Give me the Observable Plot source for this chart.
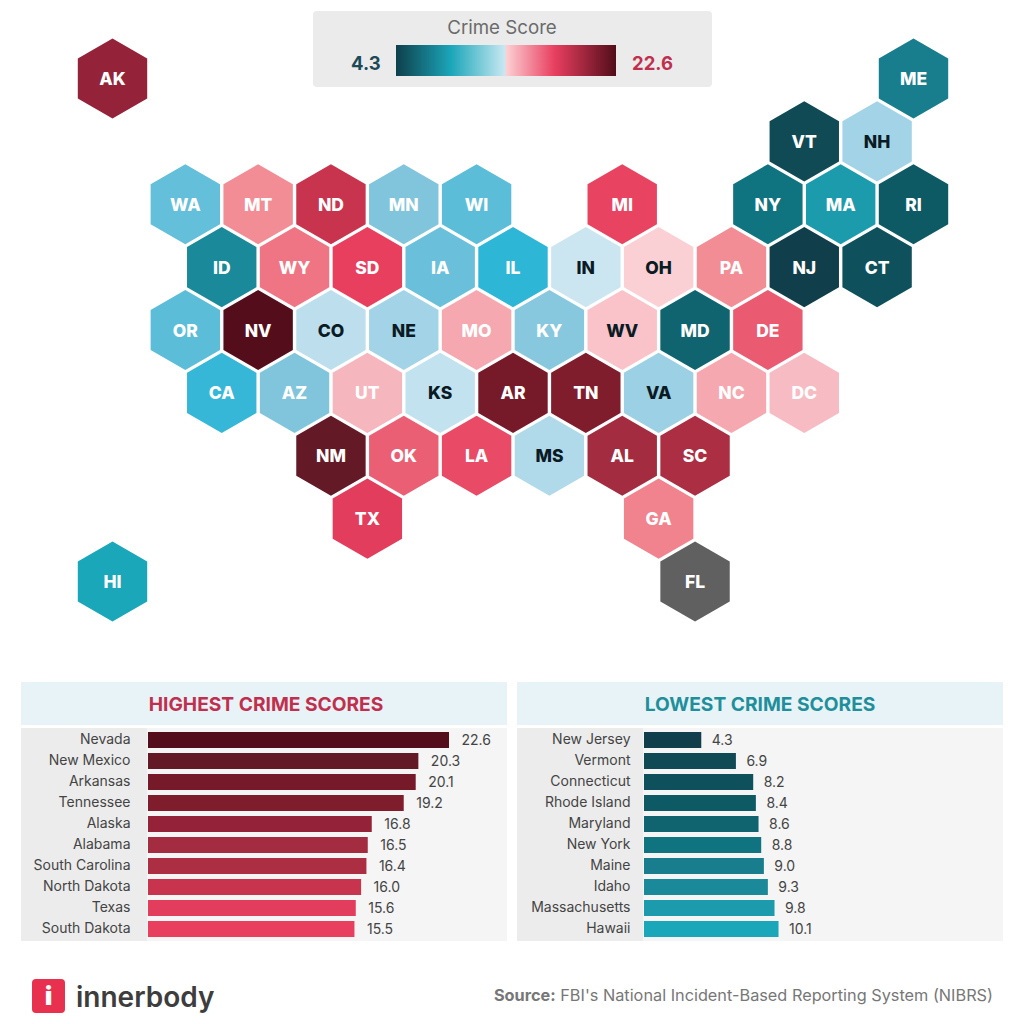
<!DOCTYPE html>
<html>
<head>
<meta charset="utf-8">
<script src="https://cdn.jsdelivr.net/npm/d3@7"></script>
<script src="https://cdn.jsdelivr.net/npm/@observablehq/plot@0.6"></script>
<style>
html,body{margin:0;padding:0;background:#fff;overflow:hidden}
#page{position:relative;width:1018px;height:1024px;overflow:hidden;font-family:Inter,sans-serif}
#page>div{position:absolute}
#page svg{display:block}
#map{left:0;top:0}
#legend{left:313px;top:11px;width:399px;height:76px;background:#ebebeb;border-radius:4px}
#legend div{position:absolute}
#legendTitle{left:0;width:378px;top:5px;text-align:center;font-size:18.7px;color:#6a6a6a}
#legendMin{left:38px;top:41px;font-size:18.5px;font-weight:700;color:#1d4a57}
#legendMax{left:319px;top:41px;font-size:18.5px;font-weight:700;color:#c0304e}
#legendRamp{left:83px;top:34px;width:220px;height:31px}
.head{top:682px;height:43px;width:486px;background:#e7f3f7;text-align:center;font-size:19.2px;font-weight:700;line-height:45px}
.body{top:728px;height:213px;width:486px;background:linear-gradient(90deg,#ececec 126px,#f5f5f5 126px)}
#logo{left:32px;top:979px;width:33px;height:34px;background:#e8304f;border-radius:4px;color:#fff;font-weight:900;font-size:26px;line-height:34px;text-align:center}
#brand{left:76px;top:976px;font-size:28px;font-weight:600;color:#3d3d3d;line-height:42px}
#source{right:25px;top:984px;font-size:16.3px;color:#777;line-height:22px}
</style>
</head>
<body>
<div id="page">
  <div id="map"></div>
  <div id="legend">
    <div id="legendTitle">Crime Score</div>
    <div id="legendMin"></div>
    <div id="legendRamp"></div>
    <div id="legendMax"></div>
  </div>
  <div class="head" id="highHead" style="left:21px;color:#c0304e;text-indent:4px"></div>
  <div class="body" id="highBars" style="left:21px"></div>
  <div class="head" id="lowHead" style="left:517px;color:#1f8f9c"></div>
  <div class="body" id="lowBars" style="left:517px"></div>
  <div id="logo">i</div>
  <div id="brand">innerbody</div>
  <div id="source"><b>Source:</b> FBI's National Incident-Based Reporting System (NIBRS)</div>
</div>
<script>
// Hex grid map data
const stateCodes = ["AK","ME","VT","NH","WA","MT","ND","MN","WI","MI","NY","MA","RI","ID","WY","SD","IA","IL","IN","OH","PA","NJ","CT","OR","NV","CO","NE","MO","KY","WV","MD","DE","CA","AZ","UT","KS","AR","TN","VA","NC","DC","NM","OK","LA","MS","AL","SC","TX","GA","HI"];
const stateCols  = [-2,20,17,19,0,2,4,6,8,12,16,18,20,1,3,5,7,9,11,13,15,17,19,0,2,4,6,8,10,12,14,16,1,3,5,7,9,11,13,15,17,4,6,8,10,12,14,5,13,-2];
const stateRows  = [0,0,1,1,2,2,2,2,2,2,2,2,2,3,3,3,3,3,3,3,3,3,3,4,4,4,4,4,4,4,4,4,5,5,5,5,5,5,5,5,5,6,6,6,6,6,6,7,7,8];
const stateScores = [16.8,9.0,6.9,12.0,11.1,14.0,16.0,11.5,11.0,15.4,8.8,9.8,8.4,9.3,14.5,15.5,11.2,10.5,12.7,13.0,14.0,4.3,8.2,11.0,22.6,12.4,12.0,13.6,11.6,13.2,8.6,15.0,10.6,11.5,13.4,12.5,20.1,19.2,11.9,13.6,13.3,20.3,14.9,15.3,12.2,16.5,16.4,15.6,14.2,10.1];
const darkLabelStates = ["NH","IN","OH","CO","NE","WV","KS","VA","MS"];
const noDataCodes = ["FL"], noDataCols = [14], noDataRows = [8];

// Colour scale stops
const colorScores = [4.3,6.9,8.2,8.4,8.6,8.8,9.0,9.3,9.8,10.1,10.5,11,11.5,12,12.5,12.95,13,13.4,14,14.6,15,15.5,16,16.5,16.8,19.2,20.1,20.3,22.6];
const colorValues = ["#103e4a","#0f4a55","#0e515c","#0d5a65","#0f6470","#107380","#187d8d","#1a8a9a","#1c9bac","#1aa7ba","#2eb6d6","#5cbdd9","#80c5dc","#a3d3e6","#c3e2ef","#d5ebf4","#fbd0d4","#f6b6bd","#f28d95","#ee7080","#ea5a70","#e83f5f","#c8344e","#a42c40","#94233a","#7f1d2d","#761a2a","#641926","#530d1b"];
const colorOptions = {type:"linear", domain:colorScores, range:colorValues};

// Legend
const legendLow = "4.3", legendHigh = "22.6", legendStops = ["#0e3f4b 0%","#1ba6b9 25%","#c8e8f2 49.5%","#fcd0d4 50%","#e83f5f 72%","#520d1a 100%"];

// Top / bottom lists
const highNames = ["Nevada","New Mexico","Arkansas","Tennessee","Alaska","Alabama","South Carolina","North Dakota","Texas","South Dakota"];
const highScores = [22.6,20.3,20.1,19.2,16.8,16.5,16.4,16.0,15.6,15.5];
const lowNames = ["New Jersey","Vermont","Connecticut","Rhode Island","Maryland","New York","Maine","Idaho","Massachusetts","Hawaii"];
const lowScores = [4.3,6.9,8.2,8.4,8.6,8.8,9.0,9.3,9.8,10.1];
const highTitle = "HIGHEST CRIME SCORES", lowTitle = "LOWEST CRIME SCORES";

const states = stateCodes.map((code,i)=>({code,col:stateCols[i],row:stateRows[i],score:stateScores[i]}));
const noData = noDataCodes.map((code,i)=>({code,col:noDataCols[i],row:noDataRows[i]}));
const font = "Inter, sans-serif";

const map = Plot.plot({
  width:1018,height:660,margin:0,
  style:{background:"transparent",fontFamily:font},
  x:{axis:null,domain:[-2,20],range:[112,913]},
  y:{axis:null,domain:[0,8],range:[78,581]},
  color:colorOptions,
  marks:[
    Plot.dot(states,{x:"col",y:"row",symbol:"hexagon",r:34.7,fill:"score",stroke:null}),
    Plot.dot(noData,{x:"col",y:"row",symbol:"hexagon",r:34.7,fill:"#606060",stroke:null}),
    Plot.text([...states,...noData],{x:"col",y:"row",text:"code",dy:1,fontSize:17.5,fontWeight:800,
      fill:d=>darkLabelStates.includes(d.code)?"#0b1b24":"#ffffff"})
  ]
});
document.getElementById("map").append(map);

document.getElementById("legendMin").textContent = legendLow;
document.getElementById("legendMax").textContent = legendHigh;
document.getElementById("legendRamp").style.background = "linear-gradient(90deg,"+legendStops.join(",")+")";
document.getElementById("highHead").textContent = highTitle;
document.getElementById("lowHead").textContent = lowTitle;

function bars(names,scores,tickPadding,valueGap){
  const rows = names.map((name,i)=>({name,score:scores[i]}));
  return Plot.plot({
    width:486,height:213,marginLeft:127,marginRight:58,marginTop:0,marginBottom:0,
    style:{background:"transparent",fontFamily:font,fontSize:"14px"},
    x:{axis:null,domain:[0,22.6],range:[127,428]},
    y:{domain:names,range:[0,213],paddingInner:0.24,paddingOuter:0.145,label:null},
    color:colorOptions,
    marks:[
      Plot.axisY({tickSize:0,tickPadding,color:"#444",label:null,fontSize:14,dy:-1}),
      Plot.barX(rows,{x:"score",y:"name",fill:"score"}),
      Plot.text(rows,{x:"score",y:"name",text:d=>d.score.toFixed(1),dx:valueGap,textAnchor:"start",fill:"#444",fontSize:14})
    ]
  });
}
document.getElementById("highBars").append(bars(highNames,highScores,18,12));
document.getElementById("lowBars").append(bars(lowNames,lowScores,14,10));
</script>
</body>
</html>
